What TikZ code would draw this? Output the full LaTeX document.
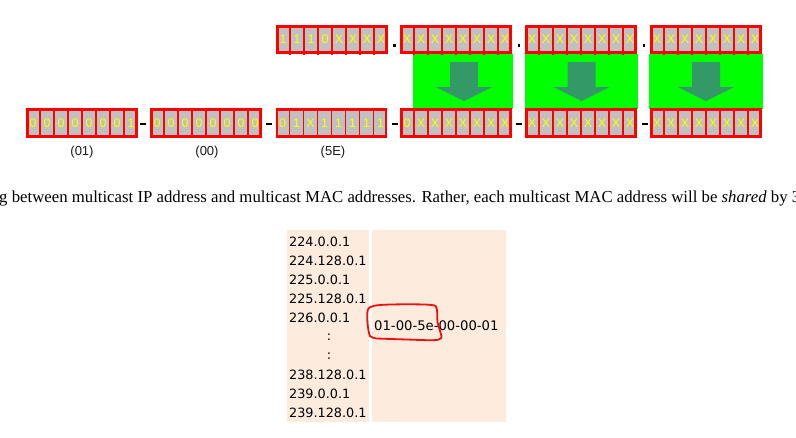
\documentclass[tikz,border=0pt]{standalone}
\usepackage{graphicx}
\usepackage{fontspec}
\setmainfont{Liberation Serif}
\newfontfamily\arialf{Liberation Sans}
\newfontfamily\verdf{DejaVu Sans}
\definecolor{bitred}{HTML}{FF0000}
\definecolor{cellgrey}{HTML}{C0C0C0}
\definecolor{bityellow}{HTML}{FFFF00}
\definecolor{boxgreen}{HTML}{00FF00}
\definecolor{arrowgreen}{HTML}{339966}
\definecolor{tablebg}{HTML}{FDEBDD}
\definecolor{loopred}{HTML}{EE1010}
\tikzset{
  bytebox/.style={minimum width=109pt, minimum height=26.5pt, inner sep=0pt, fill=cellgrey, draw=bitred, line width=2.6pt},
  celldiv/.style={draw=bitred, line width=1.6pt},
  bit/.style={font=\arialf\fontsize{12.5}{12.5}\selectfont, text=bityellow, inner sep=0pt},
  greenbox/.style={fill=boxgreen, inner sep=0pt, minimum height=55pt},
  bytelabel/.style={font=\arialf\fontsize{13}{13}\selectfont, text=black!90, inner sep=0pt},
  tblbg/.style={fill=tablebg, inner sep=0pt, minimum height=192pt},
  iptext/.style={font=\verdf\fontsize{12.8}{12.8}\selectfont, inner sep=0pt, anchor=west},
  sep/.style={fill=black},
}
\newcommand\mybyte[4]{% name, left x, top y, bits
  \node[bytebox] (#1) at ({#2+56},{#3+14.5}) {};
  \foreach \b [count=\i from 0] in {#4} {
    \ifnum\i>0 \draw[celldiv] ({#2+14*\i},{#3-0.5}) -- ++(0,30); \fi
    \node[bit] at ({#2+7+14*\i},{#3+14.5}) {\b};
  }
}
\newcommand\blockarrow[1]{%
  \fill[arrowgreen] ({#1-14},62) -- ({#1+14},62) -- ({#1+14},87) -- ({#1+28},87)
    -- (#1,101) -- ({#1-28},87) -- ({#1-14},87) -- cycle;
}
\begin{document}
\begin{tikzpicture}[x=1pt,y=-1pt]
\useasboundingbox (0,0) rectangle (796,437);
% green boxes with arrows
\node[greenbox, minimum width=100pt] (g1) at (463,81.5) {};
\node[greenbox, minimum width=113pt] (g2) at (581.5,81.5) {};
\node[greenbox, minimum width=114pt] (g3) at (706,81.5) {};
\blockarrow{464}
\blockarrow{581.5}
\blockarrow{706}
% top row (IP address)
\mybyte{t1}{276}{25}{1,1,1,0,X,X,X,X}
\mybyte{t2}{400}{25}{X,X,X,X,X,X,X,X}
\mybyte{t3}{525}{25}{X,X,X,X,X,X,X,X}
\mybyte{t4}{650}{25}{X,X,X,X,X,X,X,X}
\fill[sep] (393.2,44.2) rectangle ++(2.6,2.6);
\fill[sep] (517.7,44.2) rectangle ++(2.6,2.6);
\fill[sep] (642.7,44.2) rectangle ++(2.6,2.6);
% bottom row (MAC address)
\mybyte{b1}{26}{108.5}{0,0,0,0,0,0,0,1}
\mybyte{b2}{150}{108.5}{0,0,0,0,0,0,0,0}
\mybyte{b3}{275.5}{108.5}{0,1,X,1,1,1,1,1}
\mybyte{b4}{400}{108.5}{0,X,X,X,X,X,X,X}
\mybyte{b5}{525}{108.5}{X,X,X,X,X,X,X,X}
\mybyte{b6}{650}{108.5}{X,X,X,X,X,X,X,X}
\foreach \c in {143,269,394.7,519,644.7}
  \fill[sep] ({\c-3},122.6) rectangle ++(6,2.2);
\node[bytelabel] (l1) at (82,152) {(01)};
\node[bytelabel] (l2) at (207,152) {(00)};
\node[bytelabel] (l3) at (333,152) {(5E)};
% sentence
\begin{scope}
\clip (0,0) rectangle (796,437);
\node[anchor=base west, inner sep=0pt] (sent) at (-1,202)
  {\resizebox{801pt}{!}{g between multicast IP address and multicast MAC addresses. Rather, each multicast MAC address will be \textit{shared} by 3}};
\end{scope}
% table
\node[tblbg, minimum width=82pt] (ipcol) at (328,326) {};
\node[tblbg, minimum width=134pt] (maccol) at (439,326) {};
\foreach \t [count=\k from 0] in {224.0.0.1,224.128.0.1,225.0.0.1,225.128.0.1,226.0.0.1}
  \node[iptext] at (289,{242+18.95*\k}) {\t};
\node[iptext, anchor=center] (c1) at (329,337.5) {:};
\node[iptext, anchor=center] (c2) at (329,356.5) {:};
\foreach \t [count=\k from 7] in {238.128.0.1,239.0.0.1,239.128.0.1}
  \node[iptext] at (289,{242+18.95*\k}) {\t};
\node[iptext, font=\verdf\fontsize{13.2}{13.2}\selectfont] (mac) at (374,326) {01-00-5e-00-00-01};
\draw[loopred, line width=1.8pt, line cap=round] plot[smooth, tension=0.55] coordinates {
  (375,338) (370,336) (367.7,325) (367.3,313) (369.5,307.5) (380,305) (406.7,304.3)
  (431.7,305) (436.7,308.5) (437.5,321.7) (440.7,333.3) (441,338.3) (433,340.2) (406.7,339.5) (376,338.5)};
\end{tikzpicture}
\end{document}
